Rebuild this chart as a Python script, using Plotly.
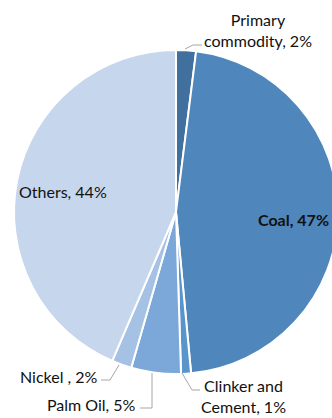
import plotly.graph_objects as go

# Share of each commodity
labels = ["Primary commodity", "Coal", "Clinker and Cement", "Palm Oil", "Nickel", "Others"]
values = [2, 47, 1, 5, 2, 44]
colors = ["#41709F", "#4F86BB", "#5A94CD", "#7BA7D9", "#A5C1E4", "#C6D6EC"]

W, H = 340, 418


def px(x):
    return x / W


def py(y):
    return 1 - y / H


fig = go.Figure(
    go.Pie(
        labels=labels,
        values=values,
        sort=False,
        direction="clockwise",
        rotation=0,
        marker=dict(colors=colors, line=dict(color="white", width=2)),
        textinfo="none",
        hoverinfo="label+value",
        showlegend=False,
        domain=dict(x=[px(12), 1], y=[py(374), py(50)]),
    )
)

font = dict(family="Lato, Calibri, sans-serif", size=16, color="#111111")
grey = "#A6A6A6"


def text_of(i, bold=False, br=None):
    name = labels[i]
    if br:
        name = name.replace(" ", "<br>", 1) if br == "first" else name.replace(" and ", " and<br>")
    t = f"{name}, {values[i]}%"
    return f"<b>{t}</b>" if bold else t


annotations = [
    dict(x=px(258), y=py(30), text=text_of(0, br="first"), align="center"),
    dict(x=px(293), y=py(219), text=text_of(1, bold=True), align="center"),
    dict(x=px(243), y=py(396), text=text_of(2, br="and"), align="center"),
    dict(x=px(91), y=py(404), text=text_of(3), align="center"),
    dict(x=px(59), y=py(376), text=labels[4] + " , " + f"{values[4]}%", align="center"),
    dict(x=px(63), y=py(192), text=text_of(5), align="center"),
]
for a in annotations:
    a.update(xref="paper", yref="paper", showarrow=False, font=font,
             xanchor="center", yanchor="middle")

# Leader lines from the small slices to their labels
leaders = [
    [(185, 49), (193, 45), (202, 45)],
    [(182, 373), (192, 390), (200, 390)],
    [(152, 373), (152, 408), (140, 408)],
    [(119, 365), (110, 380), (101, 380)],
]
shapes = []
for pts in leaders:
    path = "M " + " L ".join(f"{px(x)},{py(y)}" for x, y in pts)
    shapes.append(dict(type="path", path=path, xref="paper", yref="paper",
                       line=dict(color=grey, width=1)))

fig.update_layout(
    width=W,
    height=H,
    margin=dict(l=0, r=0, t=0, b=0),
    paper_bgcolor="white",
    plot_bgcolor="white",
    annotations=annotations,
    shapes=shapes,
)

fig.write_html(
    "out.html",
    post_script="document.documentElement.style.overflow='hidden';"
                "document.body.style.overflow='hidden';document.body.style.margin='0';",
)
